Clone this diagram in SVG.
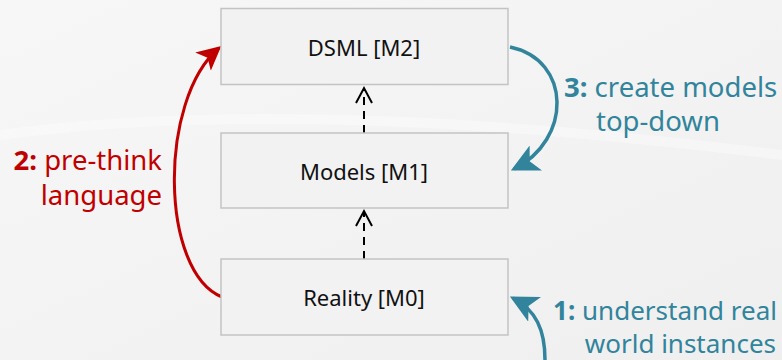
<svg xmlns="http://www.w3.org/2000/svg" width="782" height="360" viewBox="0 0 782 360">
<defs>
<linearGradient id="bg" x1="0" y1="0" x2="1" y2="1">
<stop offset="0" stop-color="#f7f7f7"/>
<stop offset="1" stop-color="#efefef"/>
</linearGradient>
<marker id="redHead" markerWidth="8" markerHeight="8" refX="7" refY="4" orient="auto" markerUnits="strokeWidth">
<path d="M0,0 L8,4 L0,8 L2,4 Z" fill="#C00000"/>
</marker>
<marker id="tealHead" markerWidth="8" markerHeight="8" refX="7" refY="4" orient="auto" markerUnits="strokeWidth">
<path d="M0,0 L8,4 L0,8 L2,4 Z" fill="#31849B"/>
</marker>
<style>
.box{fill:#f2f2f2;stroke:#c3c3c3;stroke-width:1.5}
.lbl{font-family:"Noto Sans","Open Sans",sans-serif;font-size:22px;fill:#111;text-anchor:middle}
.red{font-family:"Noto Sans","Open Sans",sans-serif;font-size:27.5px;fill:#C00000}
.teal{font-family:"Noto Sans","Open Sans",sans-serif;font-size:27.5px;fill:#31849B}
.sm{font-size:26px}
.b{font-weight:bold}
.dash{stroke:#000;stroke-width:2;stroke-dasharray:8,6;fill:none}
.chev{stroke:#000;stroke-width:2;fill:none}
</style>
</defs>
<rect width="782" height="360" fill="url(#bg)"/>
<path d="M0,130 Q300,90 782,150 L782,160 Q300,100 0,140 Z" fill="#ffffff" opacity="0.35"/>
<g id="connectors">
<path class="dash" d="M364,133 L364,88"/>
<path class="chev" d="M356,103 L364,88 L372,103"/>
<path class="dash" d="M364,259 L364,211"/>
<path class="chev" d="M356,226 L364,211 L372,226"/>
<path d="M222,297 C160,272 158,100 219,48" fill="none" stroke="#C00000" stroke-width="3" marker-end="url(#redHead)"/>
<path d="M510,47 C572,60 572,140 514,169" fill="none" stroke="#31849B" stroke-width="3.5" marker-end="url(#tealHead)"/>
<path d="M545,360 C545,330 536,310 513,298" fill="none" stroke="#31849B" stroke-width="3.5" marker-end="url(#tealHead)"/>
</g>
<g id="dsml">
<rect class="box" x="221" y="8.5" width="287" height="76"/>
<text class="lbl" x="364" y="56">DSML [M2]</text>
</g>
<g id="models">
<rect class="box" x="221" y="133" width="287" height="75"/>
<text class="lbl" x="364" y="180">Models [M1]</text>
</g>
<g id="reality">
<rect class="box" x="221" y="259" width="287" height="76"/>
<text class="lbl" x="364" y="306">Reality [M0]</text>
</g>
<g id="label2">
<text class="red" text-anchor="end" x="162" y="170"><tspan class="b">2:</tspan> pre-think</text>
<text class="red" text-anchor="end" x="162" y="205">language</text>
</g>
<g id="label3">
<text class="teal" x="564" y="97"><tspan class="b">3:</tspan> create models</text>
<text class="teal" x="596" y="131">top-down</text>
</g>
<g id="label1">
<text class="teal sm" text-anchor="end" x="777" y="320"><tspan class="b">1:</tspan> understand real</text>
<text class="teal sm" text-anchor="end" x="776" y="353">world instances</text>
</g>
</svg>
